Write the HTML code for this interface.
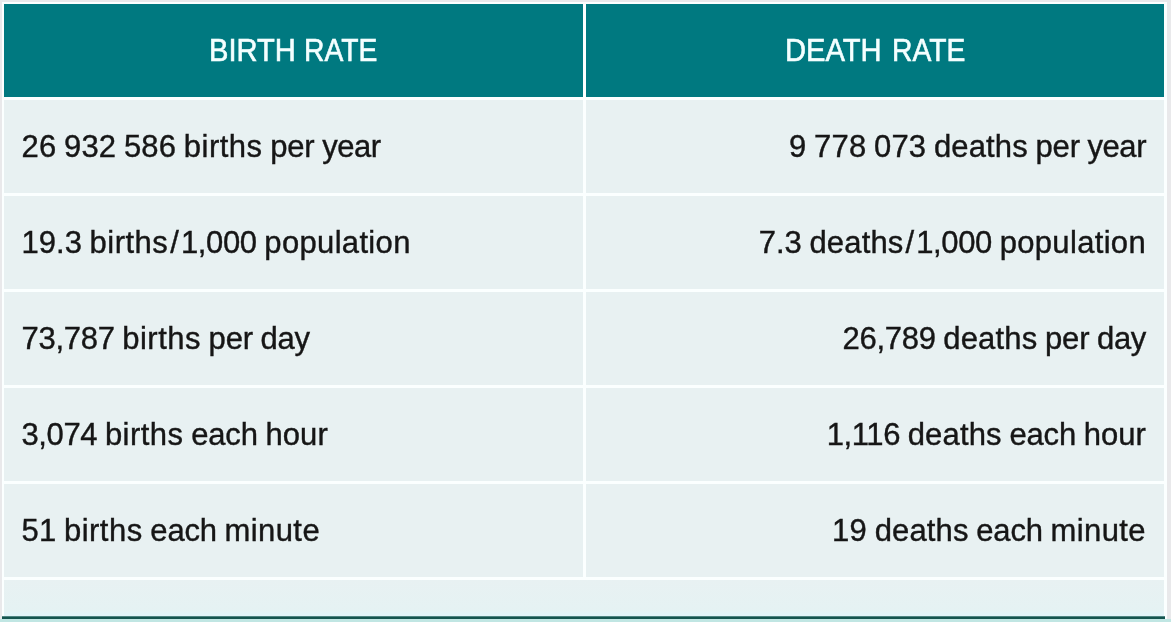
<!DOCTYPE html>
<html>
<head>
<meta charset="utf-8">
<title>Birth rate / Death rate</title>
<style>
html,body{margin:0;padding:0;}
body{width:1171px;height:622px;overflow:hidden;background:#e9e9eb;position:relative;
  font-family:"Liberation Sans",sans-serif;}
.wrap{position:absolute;left:2px;top:2px;width:1165px;height:620px;background:#fbffff;}
.cell{position:absolute;box-sizing:border-box;height:93px;white-space:nowrap;word-spacing:-0.938px;}
.t{position:relative;filter:blur(0.45px);}
.l{left:4px;width:579px;}
.r{left:586px;width:578px;}
.h{background:#007980;color:#f4ffff;text-align:center;font-size:31.0px;line-height:92px;top:4px;}
.h .t{top:1px;left:1px;-webkit-text-stroke:0.6px #f4ffff;}
.hw{display:inline-block;text-align:left;}
.hs{display:inline-block;transform-origin:0 50%;}
.b{background:#e8f1f2;color:#161616;font-size:31.0px;line-height:92px;}
.b .t{top:1px;-webkit-text-stroke:0.4px #161616;}
.b.l{padding-left:17.5px;text-align:left;}
.b.r{padding-right:18px;text-align:right;}
.w{display:inline-block;}
.foot{position:absolute;left:4px;width:1160px;top:580px;height:36px;background:linear-gradient(to bottom,#e8f1f2 0,#e5f2f3 30px,#e2f4f8 34px,#e2f4f8 36px);}
.line{position:absolute;left:2px;width:1163px;top:616px;height:4px;background:linear-gradient(to bottom,#4f8582 0,#4f8582 1px,#14554f 1px,#14554f 3px,#a5d3cf 3px,#a5d3cf 4px);}
.under{position:absolute;left:0;width:1171px;top:619px;height:3px;background:#c0e6e3;}

</style>
</head>
<body>
<div class="wrap"></div>
<div class="cell h l"><div class="t"><span class="hw" style="width:87.41px"><span class="hs" style="transform:scaleX(0.9399)">BIRTH</span></span> <span class="hw" style="width:75.43px"><span class="hs" style="transform:scaleX(0.9123)">RATE</span></span></div></div>
<div class="cell h r"><div class="t"><span class="hw" style="width:98.77px"><span class="hs" style="transform:scaleX(0.9401)">DEATH</span></span> <span class="hw" style="width:75.43px"><span class="hs" style="transform:scaleX(0.9123)">RATE</span></span></div></div>
<div class="cell b l" style="top:100px"><div class="t"><span class="w" style="letter-spacing:0.167px">26</span> <span class="w" style="letter-spacing:0.167px">932</span> <span class="w" style="letter-spacing:0.167px">586</span> <span class="w" style="letter-spacing:0.464px">births</span> <span class="w" style="letter-spacing:-0.167px">per</span> <span class="w" style="letter-spacing:-0.465px">year</span></div></div>
<div class="cell b r" style="top:100px"><div class="t"><span class="w" style="margin:0 0.083px">9</span> <span class="w" style="letter-spacing:0.167px">778</span> <span class="w" style="letter-spacing:0.167px">073</span> <span class="w" style="letter-spacing:0.146px">deaths</span> <span class="w" style="letter-spacing:-0.167px">per</span> <span class="w" style="letter-spacing:-0.465px">year</span></div></div>
<div class="cell b l" style="top:196px"><div class="t"><span class="w" style="letter-spacing:0.011px">19.3</span> <span class="w" style="letter-spacing:0.464px">births</span><span class="w" style="margin:0 2.081px">/</span><span class="w" style="letter-spacing:-0.372px">1,000</span> <span class="w" style="letter-spacing:0.330px">population</span></div></div>
<div class="cell b r" style="top:196px"><div class="t"><span class="w" style="letter-spacing:-0.040px">7.3</span> <span class="w" style="letter-spacing:0.146px">deaths</span><span class="w" style="margin:0 2.081px">/</span><span class="w" style="letter-spacing:-0.372px">1,000</span> <span class="w" style="letter-spacing:0.330px">population</span></div></div>
<div class="cell b l" style="top:292px"><div class="t"><span class="w" style="letter-spacing:-0.283px">73,787</span> <span class="w" style="letter-spacing:0.464px">births</span> <span class="w" style="letter-spacing:-0.167px">per</span> <span class="w" style="letter-spacing:-0.323px">day</span></div></div>
<div class="cell b r" style="top:292px"><div class="t"><span class="w" style="letter-spacing:-0.283px">26,789</span> <span class="w" style="letter-spacing:0.146px">deaths</span> <span class="w" style="letter-spacing:-0.167px">per</span> <span class="w" style="letter-spacing:-0.323px">day</span></div></div>
<div class="cell b l" style="top:388px"><div class="t"><span class="w" style="letter-spacing:-0.372px">3,074</span> <span class="w" style="letter-spacing:0.464px">births</span> <span class="w" style="letter-spacing:-0.159px">each</span> <span class="w" style="letter-spacing:0.072px">hour</span></div></div>
<div class="cell b r" style="top:388px"><div class="t"><span class="w" style="letter-spacing:-0.372px">1,116</span> <span class="w" style="letter-spacing:0.146px">deaths</span> <span class="w" style="letter-spacing:-0.159px">each</span> <span class="w" style="letter-spacing:0.072px">hour</span></div></div>
<div class="cell b l" style="top:484px"><div class="t"><span class="w" style="letter-spacing:0.167px">51</span> <span class="w" style="letter-spacing:0.464px">births</span> <span class="w" style="letter-spacing:-0.159px">each</span> <span class="w" style="letter-spacing:0.399px">minute</span></div></div>
<div class="cell b r" style="top:484px"><div class="t"><span class="w" style="letter-spacing:0.167px">19</span> <span class="w" style="letter-spacing:0.146px">deaths</span> <span class="w" style="letter-spacing:-0.159px">each</span> <span class="w" style="letter-spacing:0.399px">minute</span></div></div>
<div class="foot"></div>
<div class="line"></div>
<div class="under"></div>
</body>
</html>
